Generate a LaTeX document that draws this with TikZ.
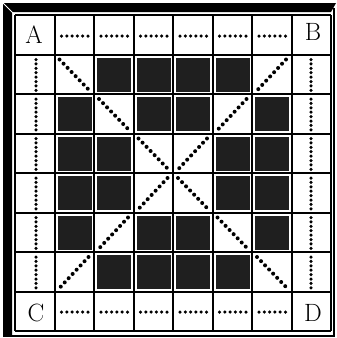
\documentclass[tikz,border=0pt]{standalone}
\usetikzlibrary{calc}

\tikzset{
  gridline/.style={line width=2pt},
  blacksq/.style={fill=black!88},
  dotrow/.style={line width=3.5pt, line cap=round, dash pattern=on 0pt off 5.3pt},
  dotcol/.style={line width=3.5pt, line cap=round, dash pattern=on 0pt off 4.4pt},
  dotdiag/.style={line width=4pt, line cap=round, dash pattern=on 0pt off 5.8pt},
  cornerlbl/.style={font=\fontsize{25}{30}\selectfont, inner sep=0pt}
}
\newcommand{\cellw}{39.5}

\begin{document}
\begin{tikzpicture}[x=1pt, y=-1pt]
  \useasboundingbox (0,0) rectangle (337,338);
  % heavy frame on top and left, thin on right and bottom
  \fill (3,3) -- (336,3) -- (331,12) -- (12,12) -- (12,336) -- (3,336) -- cycle;
  \draw[white, line width=1pt] (3,3) -- (14,14);
  \draw[line width=1.2pt] (334,8) -- (334,336) -- (3,336);

  % grid of 8 x 8 cells
  \foreach \i in {0,...,8}{
    \draw[gridline] (15+\i*\cellw,15) -- (15+\i*\cellw,331);
    \draw[gridline] (15,15+\i*\cellw) -- (331,15+\i*\cellw);
  }

  % inner squares and diagonals
  \foreach \r in {1,...,6}{
    \foreach \c in {1,...,6}{
      \pgfmathtruncatemacro\anti{7-\r}
      \pgfmathsetmacro\xa{15+\c*\cellw}
      \pgfmathsetmacro\ya{15+\r*\cellw}
      \ifnum\c=\r
        \draw[dotdiag] (\xa+5,\ya+5) -- (\xa+35,\ya+36);
      \else\ifnum\c=\anti
        \draw[dotdiag] (\xa+34,\ya+5) -- (\xa+5,\ya+36);
      \else
        \fill[blacksq] (\xa+3,\ya+3) rectangle (\xa+37,\ya+37);
      \fi\fi
    }
  }

  % dotted border cells
  \foreach \k in {1,...,6}{
    \pgfmathsetmacro\pa{15+\k*\cellw}
    \draw[dotrow] (\pa+7,36) -- (\pa+34,36);
    \draw[dotrow] (\pa+7,312) -- (\pa+34,312);
    \draw[dotcol] (36,\pa+5) -- (36,\pa+36);
    \draw[dotcol] (311,\pa+5) -- (311,\pa+36);
  }

  % corner letters
  \node[cornerlbl] (A) at (34,35) {A};
  \node[cornerlbl] (B) at (313,32) {B};
  \node[cornerlbl] (C) at (36,313) {C};
  \node[cornerlbl] (D) at (313,313) {D};
\end{tikzpicture}
\end{document}
